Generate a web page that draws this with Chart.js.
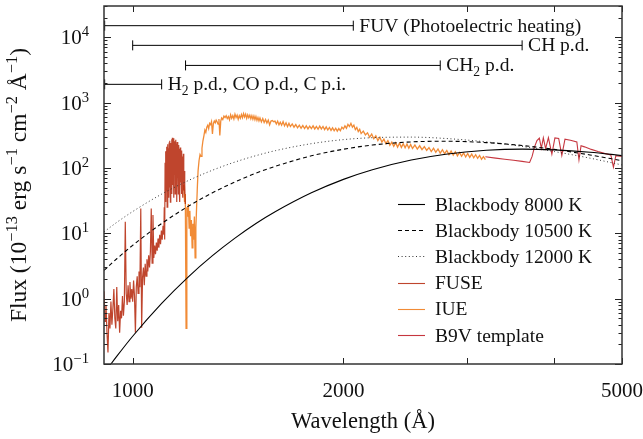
<!DOCTYPE html>
<html>
<head>
<meta charset="utf-8">
<script src="https://cdn.jsdelivr.net/npm/chart.js@4.4.1/dist/chart.umd.min.js"></script>
<style>
html, body { margin: 0; padding: 0; background: #fff; }
canvas { display: block; }
</style>
</head>
<body>
<canvas id="chart" width="643" height="439"></canvas>
<script>
// wavelength in Angstrom, flux in 1e-13 erg s-1 cm-2 A-1

// blackbody curves
const bbWave = [910, 950, 1000, 1100, 1200, 1300, 1400, 1500, 1600, 1800, 2000, 2200, 2500, 2800, 3200, 3600, 4000, 4500, 5000];
const bb8000 = [0.072, 0.133, 0.266, 0.846, 2.14, 4.54, 8.42, 14.1, 21.5, 41.6, 66.8, 93.9, 132, 162, 186, 194, 189, 174, 155];
const bb10500 = [2.70, 4.11, 6.54, 14.1, 25.8, 41.6, 61.0, 83.0, 106, 153, 193, 224, 250, 256, 244, 220, 192, 158, 129];
const bb12000 = [10.5, 14.8, 21.5, 39.7, 63.8, 92.2, 123, 154, 184, 235, 271, 290, 296, 282, 250, 213, 178, 141, 111];

// FUSE spectrum
const fuseWave = [
  910, 913, 916, 919, 922, 925, 928, 931, 934, 937,
  940, 943, 946, 949, 952, 955, 958, 961, 964, 967,
  970, 973, 976, 979, 982, 985, 988, 991, 994, 997,
  1000, 1003, 1006, 1009, 1012, 1015, 1018, 1021, 1024, 1027,
  1030, 1033, 1036, 1039, 1042, 1045, 1048, 1051, 1054, 1057,
  1060, 1063, 1066, 1069, 1072, 1075, 1078, 1081, 1084, 1087,
  1090, 1093, 1096, 1099, 1102, 1105,
  1108, 1109.5, 1111, 1112.5, 1114, 1115.5, 1117, 1118.5, 1120, 1121.5,
  1123, 1124.5, 1126, 1127.5, 1129, 1130.5, 1132, 1133.5, 1135, 1136.5,
  1138, 1139.5, 1141, 1142.5, 1144, 1145.5, 1147, 1148.5, 1150, 1151.5,
  1153, 1154.5, 1156, 1157.5, 1159, 1160.5, 1162, 1163.5, 1165, 1166.5,
  1168, 1169.5, 1171, 1172.5, 1174, 1175.5, 1177, 1178.5, 1180, 1181.5,
  1183, 1184.5, 1186, 1187.5, 1189
];
const fuseFlux = [
  1.3, 0.45, 0.8, 0.3, 0.15, 0.6, 0.35, 0.9, 0.4, 0.7,
  1.4, 0.5, 0.35, 1.5, 0.45, 0.8, 0.3, 0.65, 0.5, 1.1,
  0.55, 0.9, 15, 1.2, 0.8, 1.6, 0.9, 1.8, 1.0, 1.4,
  0.9, 1.9, 1.1, 0.3, 1.5, 2.2, 1.2, 2.6, 1.5, 24,
  0.36, 2.1, 3.0, 1.6, 3.4, 2.2, 4.0, 2.6, 4.6, 3.0,
  5.2, 24, 3.5, 19, 4.2, 6.5, 4.8, 7.2, 5.4, 8.3,
  6.0, 9.5, 6.8, 11, 8.0, 13,
  9.5, 25, 8, 120, 30, 180, 45, 210, 25, 230,
  60, 200, 35, 245, 50, 260, 30, 240, 70, 275,
  40, 290, 55, 265, 35, 285, 80, 255, 40, 270,
  60, 235, 30, 250, 70, 215, 40, 225, 55, 195,
  30, 205, 60, 175, 40, 185, 50, 150, 35, 165,
  45, 90, 40, 55, 28
];

// IUE spectrum
const iueWave = [
  1183, 1186, 1189, 1192, 1195, 1198, 1201, 1204, 1207, 1210,
  1213, 1216, 1219, 1222, 1225, 1228, 1231, 1234, 1237, 1240,
  1244, 1248, 1252, 1256, 1260, 1264, 1268, 1272, 1276, 1280,
  1284, 1288, 1292, 1296, 1300, 1304, 1308, 1312, 1316, 1320,
  1324, 1328, 1332, 1336, 1340, 1345, 1350, 1355, 1360, 1365,
  1370, 1375, 1380, 1385, 1390, 1395, 1400, 1405, 1410, 1415,
  1420, 1425, 1430, 1435, 1440, 1445, 1450, 1455, 1460, 1465,
  1470, 1475, 1480, 1485, 1490, 1495, 1500, 1505, 1510, 1515,
  1520, 1527, 1534, 1541, 1548, 1555, 1562, 1569, 1576, 1583,
  1590, 1597, 1604, 1611, 1618, 1625, 1632, 1640, 1648, 1656,
  1664, 1672, 1680, 1690, 1700, 1710, 1720, 1730, 1740, 1750,
  1760, 1770, 1780, 1790, 1800, 1810, 1820, 1830, 1840, 1850,
  1860, 1870, 1880, 1890, 1900, 1910, 1920, 1930, 1940, 1950,
  1960, 1970, 1980, 1990, 2000, 2010, 2020, 2030, 2040, 2050,
  2060, 2070, 2080, 2090, 2100, 2110, 2120, 2135, 2150, 2165,
  2180, 2195, 2210, 2225, 2240, 2255, 2270, 2285, 2300, 2315,
  2330, 2345, 2360, 2375, 2390, 2405, 2420, 2435, 2450, 2465,
  2480, 2495, 2510, 2530, 2550, 2570, 2590, 2610, 2630, 2650,
  2670, 2690, 2710, 2730, 2750, 2770, 2790, 2810, 2830, 2850,
  2870, 2890, 2910, 2930, 2950, 2970, 2990, 3010, 3030, 3050,
  3070, 3090, 3110, 3130, 3150, 3170, 3190
];
const iueFlux = [
  55, 30, 40, 0.35, 25, 18, 28, 12, 22, 9,
  16, 6, 14, 8, 18, 4.2, 12, 25, 50, 90,
  130, 160, 150, 200, 260, 310, 380, 350, 420, 450,
  400, 480, 460, 510, 330, 480, 520, 490, 540, 510,
  470, 560, 315, 520, 580, 550, 620, 590, 630, 570,
  610, 545, 650, 575, 630, 560, 665, 590, 640, 555,
  630, 575, 655, 585, 675, 600, 665, 575, 650, 585,
  640, 565, 630, 555, 620, 545, 610, 535, 590, 525,
  580, 505, 570, 495, 550, 485, 540, 455, 520, 530,
  510, 520, 470, 520, 455, 500, 450, 510, 440, 490,
  430, 480, 430, 470, 420, 460, 410, 450, 405, 445,
  400, 440, 395, 435, 400, 440, 395, 430, 390, 435,
  395, 430, 385, 425, 380, 415, 375, 410, 370, 405,
  365, 400, 370, 420, 395, 440, 405, 465, 430, 480,
  420, 450, 385, 415, 360, 390, 335, 365, 320, 345,
  295, 330, 280, 310, 262, 295, 248, 275, 235, 262,
  222, 248, 214, 242, 208, 238, 206, 235, 203, 232,
  200, 228, 198, 224, 194, 218, 190, 212, 185, 205,
  178, 200, 173, 195, 168, 190, 165, 185, 160, 181,
  157, 177, 153, 172, 151, 169, 147, 166, 145, 163,
  143, 159, 140, 155, 136, 149, 134
];

// B9V template
const tplWave = [3190, 3300, 3400, 3500, 3600, 3690, 3720, 3750, 3780, 3810,
  3835, 3860, 3889, 3925, 3970, 4010, 4060, 4102, 4145, 4220,
  4310, 4340, 4370, 4420, 4520, 4620, 4720, 4820, 4861, 4900, 4960, 5000];
const tplFlux = [148, 141, 136, 131, 126, 121, 150, 210, 262, 285,
  200, 288, 198, 290, 162, 288, 282, 155, 275, 265,
  250, 133, 218, 210, 192, 178, 167, 158, 103, 154, 151, 150];

// wavelength ranges at the top
const rangeNames = [
  [['FUV (Photoelectric heating)', '']],
  [['CH p.d.', '']],
  [['CH', ''], ['2', 'sub'], [' p.d.', '']],
  [['H', ''], ['2', 'sub'], [' p.d., CO p.d., C p.i.', '']]
];
const rangeFrom = [912, 1000, 1190, 912];
const rangeTo = [2066, 3600, 2750, 1100];
const rangeLevel = [15000, 7500, 3700, 1900];

// axes
const xTickValues = [1000, 2000, 3000, 4000, 5000];
const xTickLabels = ['1000', '2000', '', '', '5000'];
const yDecades = [0.1, 1, 10, 100, 1000, 10000];
const yDecadeExp = ['\u22121', '0', '1', '2', '3', '4'];

const FONT = '"Liberation Serif", "DejaVu Serif", serif';

function pts(xs, ys) {
  return xs.map((v, i) => ({x: v, y: ys[i]}));
}

function richWidth(ctx, segs, size) {
  let w = 0;
  segs.forEach(s => {
    ctx.font = (s[1] ? size * 0.7 : size) + 'px ' + FONT;
    w += ctx.measureText(s[0]).width;
  });
  return w;
}

function drawRich(ctx, segs, x, y, size, align) {
  let w = richWidth(ctx, segs, size);
  let cx = align === 'right' ? x - w : align === 'center' ? x - w / 2 : x;
  ctx.textAlign = 'left';
  ctx.textBaseline = 'alphabetic';
  segs.forEach(s => {
    ctx.font = (s[1] ? size * 0.7 : size) + 'px ' + FONT;
    let dy = 0;
    if (s[1] === 'sub') dy = size * 0.22;
    if (s[1] === 'sup') dy = -size * 0.38;
    ctx.fillText(s[0], cx, y + dy);
    cx += ctx.measureText(s[0]).width;
  });
}

const datasets = [
  {label: 'Blackbody 8000 K', data: pts(bbWave, bb8000), borderColor: '#000', borderWidth: 1.1, cubicInterpolationMode: 'monotone', order: 0},
  {label: 'Blackbody 10500 K', data: pts(bbWave, bb10500), borderColor: '#000', borderWidth: 1.1, borderDash: [4, 3], cubicInterpolationMode: 'monotone', order: 0},
  {label: 'Blackbody 12000 K', data: pts(bbWave, bb12000), borderColor: '#333', borderWidth: 1, borderDash: [1, 2.6], cubicInterpolationMode: 'monotone', order: 0},
  {label: 'FUSE', data: pts(fuseWave, fuseFlux), borderColor: 'rgba(180,36,8,0.85)', borderWidth: 1.2, order: 1},
  {label: 'IUE', data: pts(iueWave, iueFlux), borderColor: 'rgba(240,126,32,0.9)', borderWidth: 1.3, order: 2},
  {label: 'B9V template', data: pts(tplWave, tplFlux), borderColor: 'rgba(192,32,42,0.9)', borderWidth: 1.1, order: 1}
];
const legendCount = datasets.length;

rangeFrom.forEach((from, i) => {
  datasets.push({
    label: 'range' + i,
    data: [{x: from, y: rangeLevel[i]}, {x: rangeTo[i], y: rangeLevel[i]}],
    borderColor: '#000',
    borderWidth: 1,
    pointStyle: 'line',
    pointRotation: 90,
    pointRadius: 5,
    pointBorderWidth: 1,
    pointBorderColor: '#000',
    order: 0
  });
});

datasets.forEach(d => {
  d.fill = false;
  d.clip = 0;
  if (d.pointRadius === undefined) d.pointRadius = 0;
  d.tension = 0;
});

const framePlugin = {
  id: 'frame',
  afterDatasetsDraw(chart) {
    const {ctx, chartArea: a, scales: {x, y}} = chart;
    ctx.save();

    // ticks, inward on all four sides
    ctx.strokeStyle = '#222';
    ctx.lineWidth = 1;
    ctx.beginPath();
    yDecades.forEach(d => {
      for (let m = 1; m < 10; m++) {
        const v = d * m;
        if (v > y.max) break;
        const py = Math.round(y.getPixelForValue(v)) + 0.5;
        const len = m === 1 ? 7 : 3.5;
        ctx.moveTo(a.left, py); ctx.lineTo(a.left + len, py);
        ctx.moveTo(a.right, py); ctx.lineTo(a.right - len, py);
      }
    });
    xTickValues.forEach(v => {
      const px = Math.round(x.getPixelForValue(v)) + 0.5;
      ctx.moveTo(px, a.bottom); ctx.lineTo(px, a.bottom - 6);
      ctx.moveTo(px, a.top); ctx.lineTo(px, a.top + 6);
    });
    ctx.stroke();

    ctx.lineWidth = 1.5;
    ctx.strokeStyle = '#333';
    ctx.strokeRect(a.left, a.top, a.right - a.left, a.bottom - a.top);

    ctx.fillStyle = '#111';

    // tick labels
    yDecades.forEach((d, i) => {
      const py = y.getPixelForValue(d);
      drawRich(ctx, [['10', ''], [yDecadeExp[i], 'sup']], 89, py + 7, 21, 'right');
    });
    xTickValues.forEach((v, i) => {
      if (!xTickLabels[i]) return;
      drawRich(ctx, [[xTickLabels[i], '']], x.getPixelForValue(v), 397, 21, 'center');
    });

    // axis titles
    drawRich(ctx, [['Wavelength (\u00c5)', '']], (a.left + a.right) / 2, 428, 22.5, 'center');
    ctx.save();
    ctx.translate(26, (a.top + a.bottom) / 2);
    ctx.rotate(-Math.PI / 2);
    drawRich(ctx, [['Flux (10', ''], ['\u221213', 'sup'], [' erg s', ''], ['\u22121', 'sup'],
      [' cm', ''], ['\u22122', 'sup'], [' \u00c5', ''], ['\u22121', 'sup'], [')', '']], 0, 0, 23.5, 'center');
    ctx.restore();

    // range labels
    rangeNames.forEach((segs, i) => {
      const px = x.getPixelForValue(rangeTo[i]) + 6;
      const py = y.getPixelForValue(rangeLevel[i]) + 6;
      drawRich(ctx, segs, px, py, 19.5, 'left');
    });

    // legend, lower right inside the plot
    for (let i = 0; i < legendCount; i++) {
      const ds = chart.data.datasets[i];
      const cy = 204 + i * 26.2;
      ctx.save();
      ctx.strokeStyle = ds.borderColor;
      ctx.lineWidth = 1.1;
      ctx.setLineDash(ds.borderDash || []);
      ctx.beginPath();
      ctx.moveTo(398, Math.round(cy) + 0.5);
      ctx.lineTo(425, Math.round(cy) + 0.5);
      ctx.stroke();
      ctx.restore();
      drawRich(ctx, [[ds.label, '']], 435, cy + 6.5, 19.5, 'left');
    }

    ctx.restore();
  }
};

new Chart(document.getElementById('chart').getContext('2d'), {
  type: 'line',
  data: {datasets: datasets},
  options: {
    responsive: false,
    animation: false,
    devicePixelRatio: 1,
    layout: {padding: {left: 104, right: 21, top: 3, bottom: 75}},
    plugins: {legend: {display: false}, tooltip: {enabled: false}},
    scales: {
      x: {type: 'logarithmic', min: 910, max: 5000, display: false},
      y: {type: 'logarithmic', min: 0.1, max: 30000, display: false}
    }
  },
  plugins: [framePlugin]
});
</script>
</body>
</html>
